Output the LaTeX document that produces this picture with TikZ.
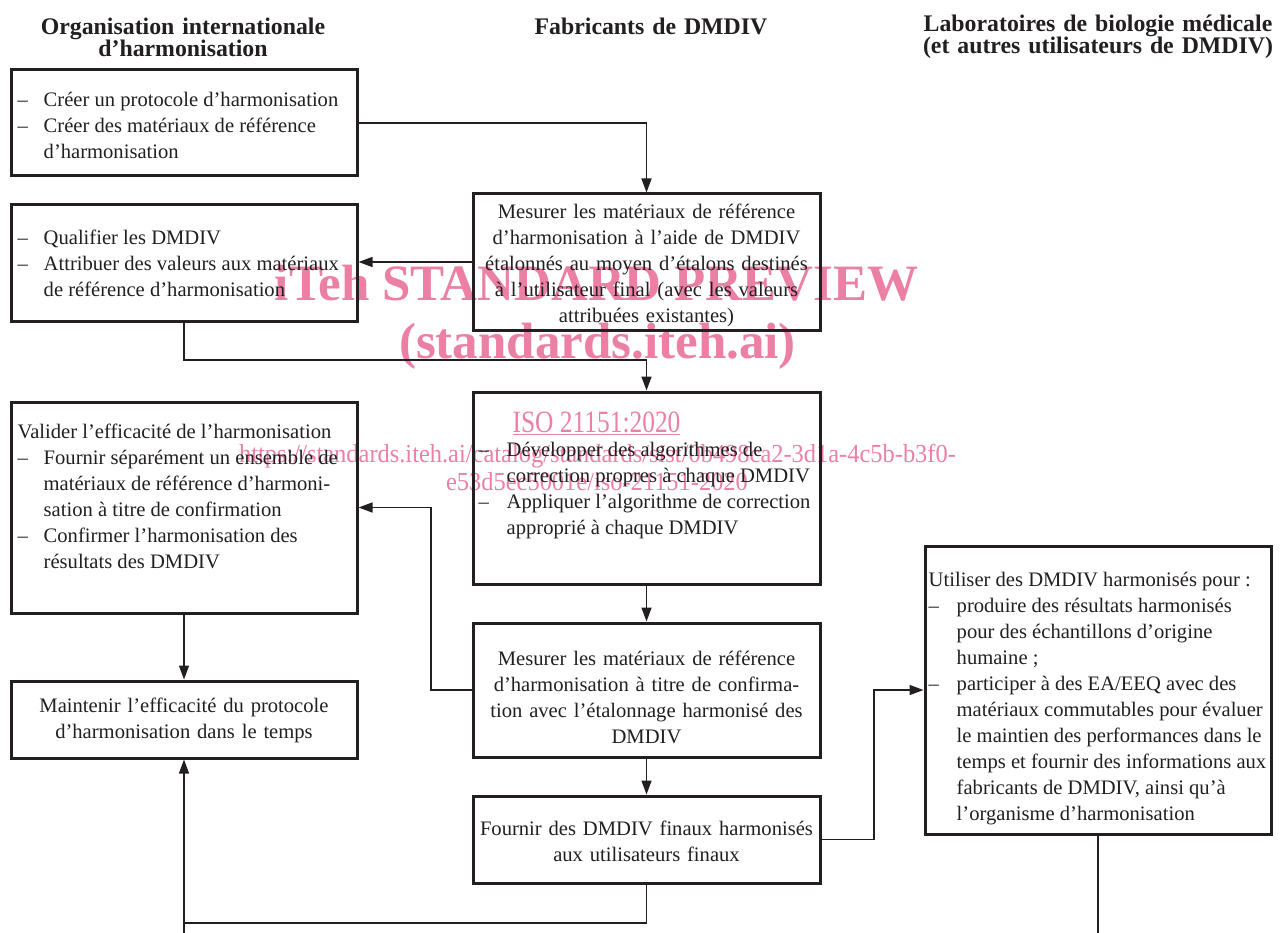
\documentclass[tikz,border=0pt]{standalone}
\usepackage{fontspec}
\setmainfont{Liberation Serif}
\newfontfamily\wmfont[FakeStretch=0.94]{Liberation Serif}
\newfontfamily\isofont[FakeStretch=0.82]{Liberation Serif}
\usetikzlibrary{arrows.meta}
\definecolor{ink}{RGB}{35,31,32}
\definecolor{wm}{RGB}{236,128,164}
\begin{document}
\begin{tikzpicture}[x=1pt,y=-1pt,
  box/.style={draw=ink, line width=3pt, minimum width=346pt, inner sep=0pt},
  txt/.style={font=\fontsize{20.6}{26}\selectfont, text=ink, inner sep=0pt},
  ctxt/.style={txt, align=center, text width=340pt},
  head/.style={font=\bfseries\fontsize{23.8}{22}\selectfont, text=ink, align=center, inner sep=0pt, text width=420pt},
  conn/.style={draw=ink, line width=1.5pt},
  arr/.style={conn, -{Triangle[length=14pt,width=10pt]}},
  wmark/.style={text=wm, inner sep=0pt, anchor=base}
]
\fill[white] (0,0) rectangle (1284,933);
\useasboundingbox (0,0) rectangle (1284,933);

% watermark (underneath)
\node[wmark, font=\bfseries\fontsize{51}{51}\selectfont] (wm1) at (596.5,300) {iTeh STANDARD PREVIEW};
\node[wmark, font=\bfseries\fontsize{51}{51}\selectfont] (wm2) at (597.5,358) {(standards.iteh.ai)};
\node[wmark, font=\isofont\fontsize{31}{31}\selectfont] (wm3) at (596.5,432) {\underline{ISO 21151:2020}};
\node[wmark, font=\wmfont\fontsize{26}{28}\selectfont] (wm4) at (597.5,462) {https://standards.iteh.ai/catalog/standards/sist/0b498ca2-3d1a-4c5b-b3f0-};
\node[wmark, font=\wmfont\fontsize{26}{28}\selectfont] (wm5) at (597,490) {e53d5ec5001e/iso-21151-2020};

% headings
\node[head] (h1) at (183,37) {Organisation internationale\\d’harmonisation};
\node[head] (h2) at (651,26) {Fabricants de DMDIV};
\node[head] (h3) at (1098,37) {Laboratoires de biologie médicale\\(et autres utilisateurs de DMDIV)};

% boxes
\node[box, minimum height=106pt] (a) at (184,123) {};
\node[box, minimum height=116pt] (b) at (184,263) {};
\node[box, minimum width=347pt, minimum height=136pt] (c) at (646.5,262) {};
\node[box, minimum height=211pt] (d) at (184,507.5) {};
\node[box, minimum width=347pt, minimum height=192pt] (e) at (646.5,488) {};
\node[box, minimum height=77pt] (f) at (184,719.5) {};
\node[box, minimum width=347pt, minimum height=134pt] (g) at (646.5,690) {};
\node[box, minimum width=347pt, minimum height=87pt] (h) at (646.5,839.5) {};
\node[box, minimum height=288pt] (i) at (1098,690) {};

% texts
\node[txt, anchor=west, yshift=-4pt] (ta) at ([xshift=8pt]a.west) {\begin{tabular}{@{}p{26pt}@{}l@{}}
–&Créer un protocole d’harmonisation\\
–&Créer des matériaux de référence\\
 &d’harmonisation
\end{tabular}};
\node[txt, anchor=west, yshift=-2pt] (tb) at ([xshift=8pt]b.west) {\begin{tabular}{@{}p{26pt}@{}l@{}}
–&Qualifier les DMDIV\\
–&Attribuer des valeurs aux matériaux\\
 &de référence d’harmonisation
\end{tabular}};
\node[ctxt, yshift=-3pt] (tc) at (c.center) {Mesurer les matériaux de référence\\d’harmonisation à l’aide de DMDIV\\étalonnés au moyen d’étalons destinés\\à l’utilisateur final (avec les valeurs\\attribuées existantes)};
\node[txt, anchor=west, yshift=9pt] (td) at ([xshift=8pt]d.west) {\begin{tabular}{@{}p{26pt}@{}l@{}}
\multicolumn{2}{@{}l@{}}{Valider l’efficacité de l’harmonisation}\\
–&Fournir séparément un ensemble de\\
 &matériaux de référence d’harmoni-\\
 &sation à titre de confirmation\\
–&Confirmer l’harmonisation des\\
 &résultats des DMDIV
\end{tabular}};
\node[txt, anchor=west, yshift=-2pt] (te) at ([xshift=7pt]e.west) {\begin{tabular}{@{}p{28pt}@{}l@{}}
–&Développer des algorithmes de\\
 &correction propres à chaque DMDIV\\
–&Appliquer l’algorithme de correction\\
 &approprié à chaque DMDIV
\end{tabular}};
\node[ctxt, yshift=-1pt] (tf) at (f.center) {Maintenir l’efficacité du protocole\\d’harmonisation dans le temps};
\node[ctxt, yshift=-7pt] (tg) at (g.center) {Mesurer les matériaux de référence\\d’harmonisation à titre de confirma-\\tion avec l’étalonnage harmonisé des\\DMDIV};
\node[ctxt, yshift=-2pt] (th) at (h.center) {Fournir des DMDIV finaux harmonisés\\aux utilisateurs finaux};
\node[txt, anchor=west, yshift=-8pt] (ti) at ([xshift=5pt]i.west) {\begin{tabular}{@{}p{28pt}@{}l@{}}
\multicolumn{2}{@{}l@{}}{Utiliser des DMDIV harmonisés pour :}\\
–&produire des résultats harmonisés\\
 &pour des échantillons d’origine\\
 &humaine ;\\
–&participer à des EA/EEQ avec des\\
 &matériaux commutables pour évaluer\\
 &le maintien des performances dans le\\
 &temps et fournir des informations aux\\
 &fabricants de DMDIV, ainsi qu’à\\
 &l’organisme d’harmonisation
\end{tabular}};

% connectors
\coordinate (bjoin) at (184,360);
\coordinate (gjoin) at (431,690);
\coordinate (hjoin) at (874,839.5);
\coordinate (loop) at (184,923);
\coordinate (bl) at (184,933);
\coordinate (br) at (1098,933);

\draw[arr] (a.east) -| (c.north);
\draw[arr] (c.west) -- (c.west -| b.east);
\draw[arr] (b.south) -- (bjoin) -| (e.north);
\draw[arr] (e.south) -- (g.north);
\draw[arr] (g.west) -- (gjoin) |- (d.east);
\draw[arr] (d.south) -- (f.north);
\draw[arr] (g.south) -- (h.north);
\draw[arr] (h.east) -- (hjoin) |- (i.west);
\draw[arr] (h.south) |- (loop) -- (f.south);
\draw[conn] (loop) -- (bl);
\draw[conn] (i.south) -- (br);
\end{tikzpicture}
\end{document}
